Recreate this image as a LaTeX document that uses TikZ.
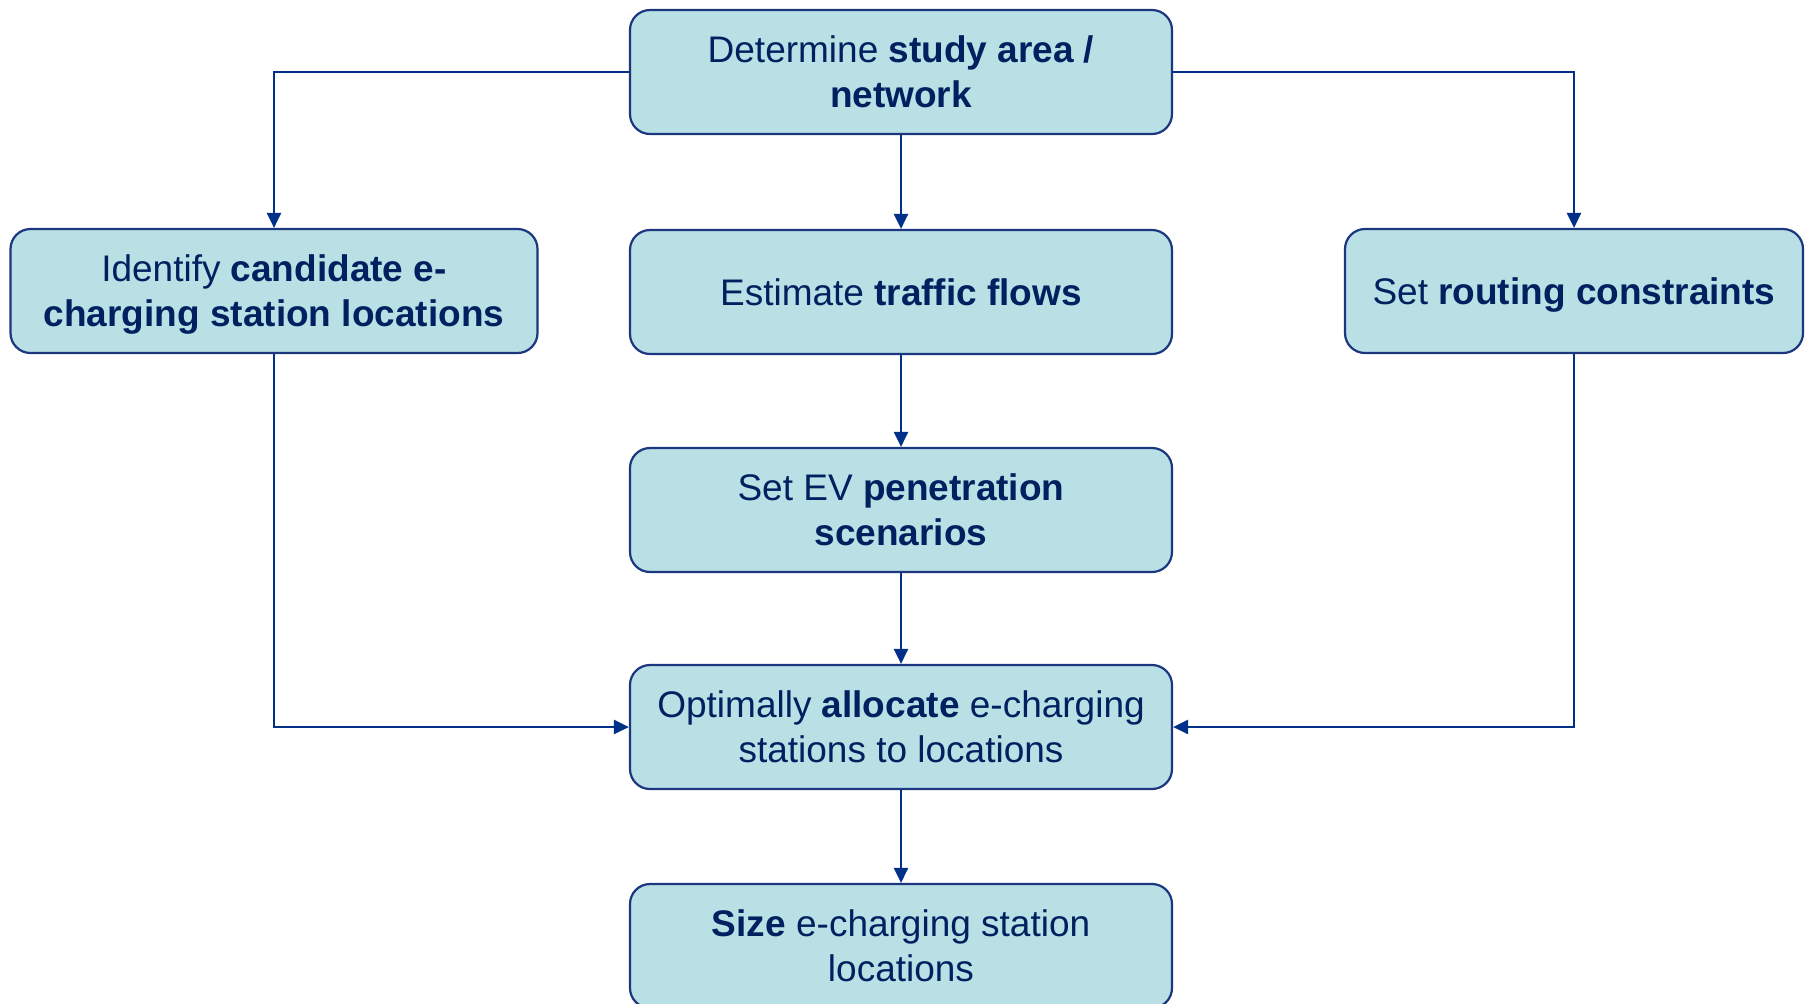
\documentclass[tikz,border=0pt]{standalone}
\usepackage{fontspec}
\setmainfont{Liberation Sans}
\usetikzlibrary{arrows.meta}
\definecolor{boxfill}{RGB}{185,224,228}
\definecolor{boxline}{RGB}{28,54,128}
\definecolor{textnavy}{RGB}{0,32,96}
\definecolor{flowline}{RGB}{0,48,135}
\newcommand*{\midx  }{901}
\newcommand*{\leftx }{274}
\newcommand*{\rightx}{1574}
\newcommand*{\wmid  }{271pt}
\newcommand*{\wleft }{263.5pt}
\newcommand*{\wright}{229pt}
\newcommand*{\bht   }{62pt}

\begin{document}
\begin{tikzpicture}[x=0.5pt, y=-0.5pt,
    stage/.style={draw=boxline, line width=1.1pt, fill=boxfill, rounded corners=10pt,
        minimum height=\bht, align=center, text=textnavy, inner sep=2pt, text depth=0pt,
        font=\fontsize{18.5}{22.5}\selectfont},
    flow/.style={draw=flowline, line width=1.2pt, -{Triangle[width=7pt,length=7.5pt]}}]
    \clip (0,0) rectangle (1808,1003);
    \useasboundingbox (0,0) rectangle (1808,1003);
        \node [stage, minimum width=\wmid  ] (area)   at (\midx,  72) {Determine \textbf{study area /}\\\textbf{network}};
        \node [stage, minimum width=\wleft ] (ident)  at (\leftx, 291) {Identify \textbf{candidate e-}\\\textbf{charging station locations}};
        \node [stage, minimum width=\wmid  ] (flows)  at (\midx, 292) {Estimate \textbf{traffic flows}};
        \node [stage, minimum width=\wright] (route)  at (\rightx,291) {Set \textbf{routing constraints}};
        \node [stage, minimum width=\wmid  ] (evpen)  at (\midx, 510) {Set EV \textbf{penetration}\\\textbf{scenarios}};
        \node [stage, minimum width=\wmid  ] (alloc)  at (\midx, 727) {Optimally \textbf{allocate} e-charging\\stations to locations};
        \node [stage, minimum width=\wmid  ] (size)   at (\midx, 946) {\textbf{Size} e-charging station\\locations};
        \draw [flow] (area.west)  -| (ident.north);
        \draw [flow] (area.east)  -| (route.north);
        \draw [flow] (area)  -- (flows);
        \draw [flow] (flows) -- (evpen);
        \draw [flow] (evpen) -- (alloc);
        \draw [flow] (alloc) -- (size);
        \draw [flow] (ident.south) |- (alloc.west);
        \draw [flow] (route.south) |- (alloc.east);
    \end{tikzpicture}
\end{document}
